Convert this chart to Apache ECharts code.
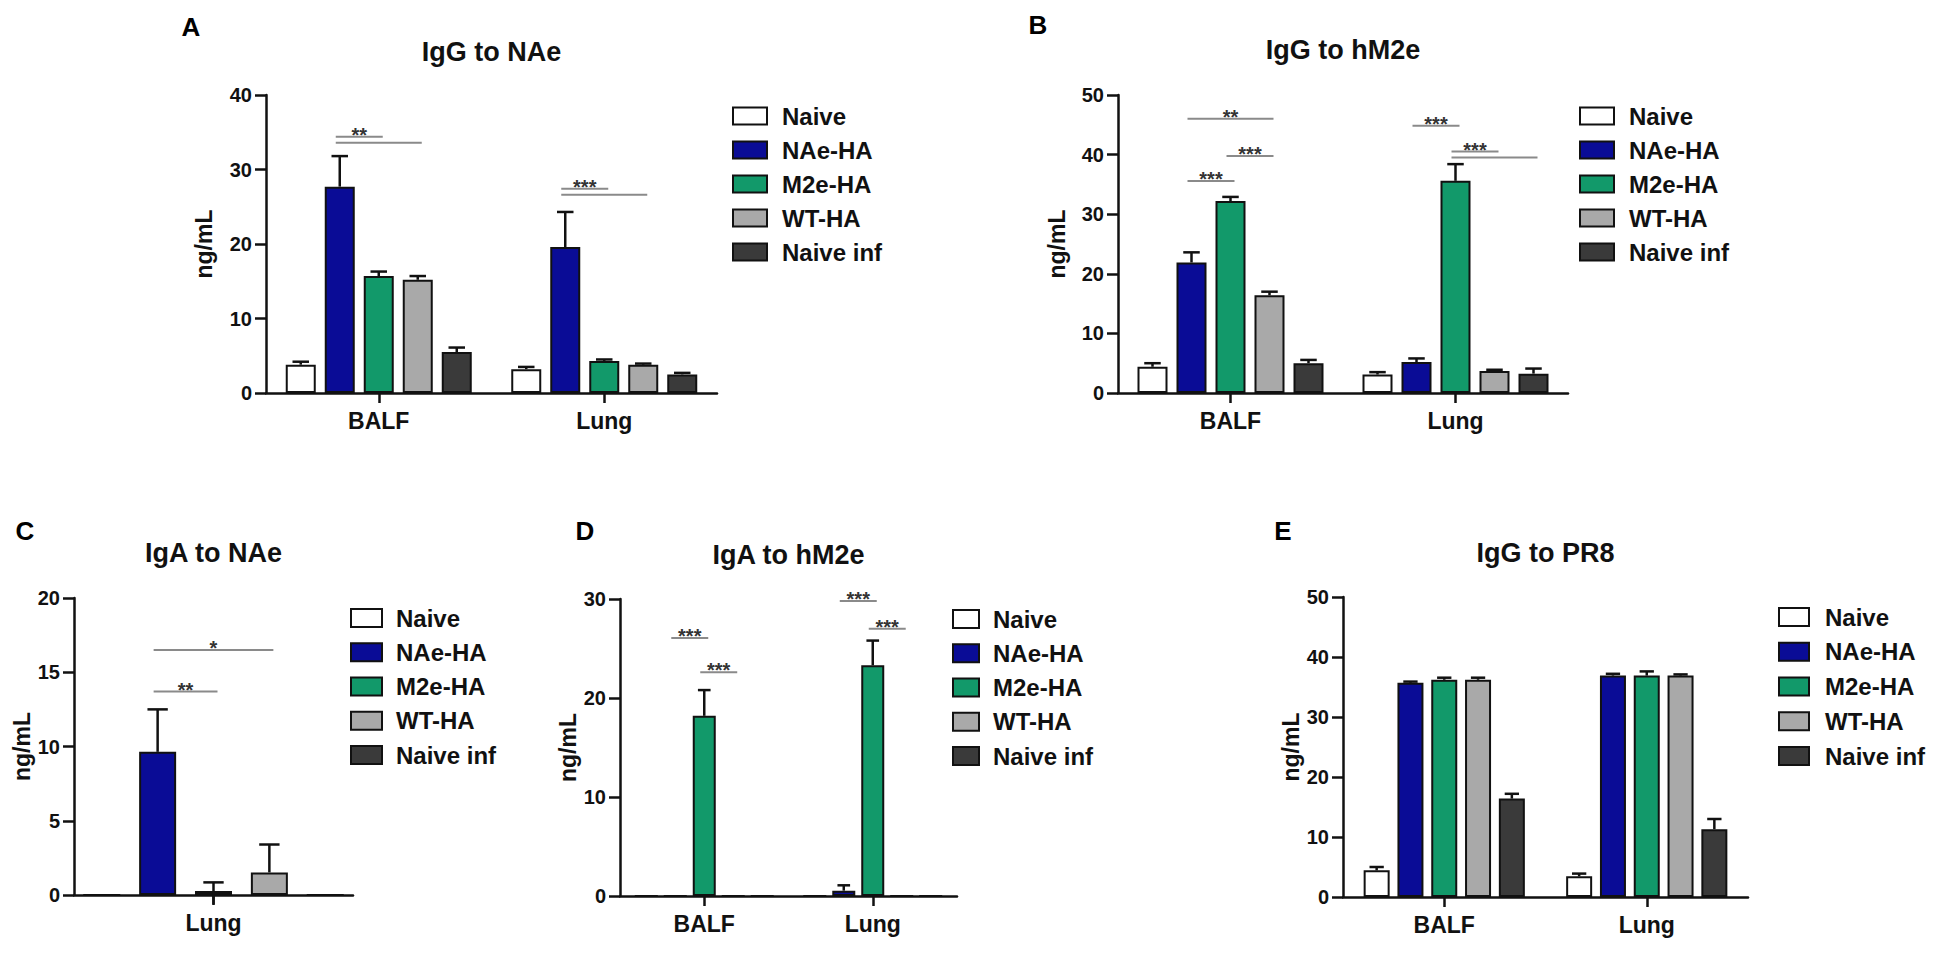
<!DOCTYPE html>
<html><head><meta charset="utf-8">
<script src="https://cdn.jsdelivr.net/npm/echarts@6/dist/echarts.min.js"></script>
<style>html,body{margin:0;padding:0;background:#fff}#c{width:1950px;height:954px}</style>
</head><body><div id="c"></div>
<script>
// ---------- DATA ----------
const groups = ['Naive', 'NAe-HA', 'M2e-HA', 'WT-HA', 'Naive inf'];
const colors = ['#ffffff', '#0a0c96', '#12996a', '#a9a9a9', '#3a3a3a'];

// Panel A: IgG to NAe (rows = groups, cols = categories)
const catA = ['BALF', 'Lung'];
const meanA = [[3.8, 3.2], [27.7, 19.6], [15.7, 4.3], [15.2, 3.8], [5.5, 2.5]];
const errA  = [[0.4, 0.3], [4.1, 4.7], [0.6, 0.2], [0.5, 0.15], [0.6, 0.2]];
const sigA = [
  {cat: 0, from: 1, to: 2, y: 34.4, text: '**'},
  {cat: 0, from: 1, to: 3, y: 33.6, text: ''},
  {cat: 1, from: 1, to: 2, y: 27.4, text: '***'},
  {cat: 1, from: 1, to: 3, y: 26.6, text: ''}
];

// Panel B: IgG to hM2e
const catB = ['BALF', 'Lung'];
const meanB = [[4.4, 3.1], [21.9, 5.2], [32.2, 35.6], [16.4, 3.7], [5.0, 3.25]];
const errB  = [[0.6, 0.4], [1.7, 0.6], [0.7, 2.8], [0.6, 0.2], [0.55, 0.85]];
const sigB = [
  {cat: 0, from: 1, to: 3, y: 46.0, text: '**'},
  {cat: 0, from: 2, to: 3, y: 39.75, text: '***'},
  {cat: 0, from: 1, to: 2, y: 35.55, text: '***'},
  {cat: 1, from: 1, to: 2, y: 44.85, text: '***'},
  {cat: 1, from: 2, to: 3, y: 40.5, text: '***'},
  {cat: 1, from: 2, to: 4, y: 39.5, text: ''}
];

// Panel C: IgA to NAe
const catC = ['Lung'];
const meanC = [[0], [9.64], [0.27], [1.52], [0]];
const errC  = [[0], [2.86], [0.58], [1.88], [0]];
const errLowC = [[0], [0], [0.9], [0], [0]];
const sigC = [
  {cat: 0, from: 1, to: 3, y: 16.5, text: '*'},
  {cat: 0, from: 1, to: 2, y: 13.7, text: '**'}
];

// Panel D: IgA to hM2e
const catD = ['BALF', 'Lung'];
const meanD = [[0, 0], [0, 0.54], [18.2, 23.3], [0, 0], [0, 0]];
const errD  = [[0, 0], [0, 0.54], [2.6, 2.5], [0, 0], [0, 0]];
const sigD = [
  {cat: 0, from: 1, to: 2, y: 26.05, text: '***'},
  {cat: 0, from: 2, to: 3, y: 22.6, text: '***'},
  {cat: 1, from: 1, to: 2, y: 29.8, text: '***'},
  {cat: 1, from: 2, to: 3, y: 27.0, text: '***'}
];

// Panel E: IgG to PR8
const catE = ['BALF', 'Lung'];
const meanE = [[4.44, 3.44], [35.7, 36.9], [36.2, 36.9], [36.2, 36.9], [16.4, 11.3]];
const errE  = [[0.56, 0.46], [0.2, 0.3], [0.35, 0.7], [0.35, 0.2], [0.8, 1.7]];
const sigE = [];

const titles = ['IgG to NAe', 'IgG to hM2e', 'IgA to NAe', 'IgA to hM2e', 'IgG to PR8'];
const letters = ['A', 'B', 'C', 'D', 'E'];
const yMaxes = [40, 50, 20, 30, 50];
const yIntervals = [10, 10, 5, 10, 10];

// ---------- LAYOUT ----------
const FONT = '"Liberation Sans", Arial, Helvetica, sans-serif';
const INK = '#111';
const LEG_FONT = 24;
// legend: [left, top, itemWidth, itemHeight, itemGap, textPadLeft]
const layout = [
  {grid: [266, 95, 451, 298], barW: 30, gapPct: 30, letter: [191, 27], titleY: 52, legend: [732, 104, 34, 17, 10, 10], nameGap: 51},
  {grid: [1118, 95, 450, 298], barW: 30, gapPct: 30, letter: [1038, 25], titleY: 50, legend: [1579, 104, 34, 17, 10, 10], nameGap: 50},
  {grid: [74, 598, 279, 297], barW: 37, gapPct: 51, letter: [25, 531], titleY: 553, legend: [350, 606, 31, 18, 10.25, 9], nameGap: 36},
  {grid: [620, 599, 337, 297], barW: 23, gapPct: 26, letter: [585, 531], titleY: 555, legend: [952, 607, 26, 18, 10.25, 9], nameGap: 34},
  {grid: [1343, 597, 405, 300], barW: 26, gapPct: 30, letter: [1283, 531], titleY: 553, legend: [1778, 605, 30, 18, 10.75, 11], nameGap: 38}
];

const panels = [
  {cats: catA, mean: meanA, err: errA, errLow: null, sig: sigA},
  {cats: catB, mean: meanB, err: errB, errLow: null, sig: sigB},
  {cats: catC, mean: meanC, err: errC, errLow: errLowC, sig: sigC},
  {cats: catD, mean: meanD, err: errD, errLow: null, sig: sigD},
  {cats: catE, mean: meanE, err: errE, errLow: null, sig: sigE}
];

const chart = echarts.init(document.getElementById('c'), null, {renderer: 'svg', width: 1950, height: 954});
const option = {
  animation: false, backgroundColor: '#ffffff',
  textStyle: {fontFamily: FONT},
  grid: [], xAxis: [], yAxis: [], series: [], legend: [], graphic: []
};

panels.forEach((P, p) => {
  const L = layout[p];
  const step = L.barW * (1 + L.gapPct / 100);
  option.grid.push({left: L.grid[0], top: L.grid[1], width: L.grid[2], height: L.grid[3],
    containLabel: false, outerBoundsMode: 'none'});
  option.xAxis.push({
    gridIndex: p, type: 'category', data: P.cats,
    axisLine: {show: true, lineStyle: {color: INK, width: 2.5}},
    axisTick: {show: true, alignWithLabel: true, length: 10, lineStyle: {color: INK, width: 2.5}},
    axisLabel: {fontSize: 23, fontWeight: 'bold', color: INK, fontFamily: FONT, margin: 16},
    splitLine: {show: false}
  });
  option.yAxis.push({
    gridIndex: p, type: 'value', min: 0, max: yMaxes[p], interval: yIntervals[p],
    axisLine: {show: true, lineStyle: {color: INK, width: 2.5}},
    axisTick: {show: true, length: 11, lineStyle: {color: INK, width: 2.5}},
    axisLabel: {fontSize: 20, fontWeight: 'bold', color: INK, fontFamily: FONT, margin: 14},
    splitLine: {show: false},
    name: 'ng/mL', nameLocation: 'middle', nameGap: L.nameGap,
    nameTextStyle: {fontSize: 23, fontWeight: 'bold', color: INK, fontFamily: FONT}
  });
  groups.forEach((g, gi) => {
    option.series.push({
      type: 'bar', name: g, xAxisIndex: p, yAxisIndex: p,
      data: P.mean[gi], barWidth: L.barW, barGap: L.gapPct + '%',
      itemStyle: {color: colors[gi], borderColor: INK, borderWidth: 2},
      z: 2, silent: true
    });
  });
  // error bars
  const errData = [];
  groups.forEach((g, gi) => {
    P.cats.forEach((c, ci) => {
      errData.push([ci, P.mean[gi][ci], P.err[gi][ci], P.errLow ? P.errLow[gi][ci] : 0, gi]);
    });
  });
  option.series.push({
    type: 'custom', xAxisIndex: p, yAxisIndex: p, data: errData, encode: {x: 0, y: 1},
    clip: false, z: 4, silent: true,
    renderItem: (params, api) => {
      const ci = api.value(0), m = api.value(1), e = api.value(2), el = api.value(3), gi = api.value(4);
      if (!e && !el) return {type: 'group', children: []};
      const mid = api.coord([ci, m]);
      const top = api.coord([ci, m + e]);
      const low = api.coord([ci, m - el]);
      const x = mid[0] + (gi - 2) * step;
      const cw = L.barW * 0.55;
      const st = {stroke: INK, lineWidth: 2.5};
      const ch = [
        {type: 'line', shape: {x1: x, y1: low[1], x2: x, y2: top[1]}, style: st},
        {type: 'line', shape: {x1: x - cw / 2, y1: top[1], x2: x + cw / 2, y2: top[1]}, style: st}
      ];
      return {type: 'group', children: ch};
    }
  });
  // significance lines
  if (P.sig.length) {
    option.series.push({
      type: 'custom', xAxisIndex: p, yAxisIndex: p,
      data: P.sig.map(s => [s.cat, s.y]), encode: {x: 0, y: 1},
      clip: false, z: 5, silent: true,
      renderItem: (params, api) => {
        const s = P.sig[params.dataIndex];
        const c = api.coord([api.value(0), api.value(1)]);
        const x1 = c[0] + (s.from - 2) * step - 4;
        const x2 = c[0] + (s.to - 2) * step + 4;
        const ch = [{type: 'line', shape: {x1: x1, y1: c[1], x2: x2, y2: c[1]},
          style: {stroke: '#8a8a8a', lineWidth: 2}}];
        if (s.text) {
          ch.push({type: 'text', style: {text: s.text, x: (x1 + x2) / 2, y: c[1] - 2,
            align: 'center', verticalAlign: 'middle', fontSize: 20, fontWeight: 'bold',
            fontFamily: FONT, fill: '#333'}});
        }
        return {type: 'group', children: ch};
      }
    });
  }
  // legend
  option.legend.push({
    data: groups, orient: 'vertical', left: L.legend[0], top: L.legend[1],
    itemWidth: L.legend[2], itemHeight: L.legend[3], itemGap: L.legend[4],
    icon: 'rect', selectedMode: false, padding: 0,
    itemStyle: {borderColor: INK, borderWidth: 2},
    textStyle: {fontSize: LEG_FONT, fontWeight: 'bold', color: INK, fontFamily: FONT,
      padding: [0, 0, 0, L.legend[5]]}
  });
  // title & panel letter
  const cx = L.grid[0] + L.grid[2] / 2;
  option.graphic.push({type: 'text', x: cx, y: L.titleY,
    style: {text: titles[p], align: 'center', verticalAlign: 'middle', fontSize: 27,
      fontWeight: 'bold', fontFamily: FONT, fill: INK}});
  option.graphic.push({type: 'text', x: L.letter[0], y: L.letter[1],
    style: {text: letters[p], align: 'center', verticalAlign: 'middle', fontSize: 26,
      fontWeight: 'bold', fontFamily: FONT, fill: '#000'}});
});

chart.setOption(option);
</script>
</body></html>
